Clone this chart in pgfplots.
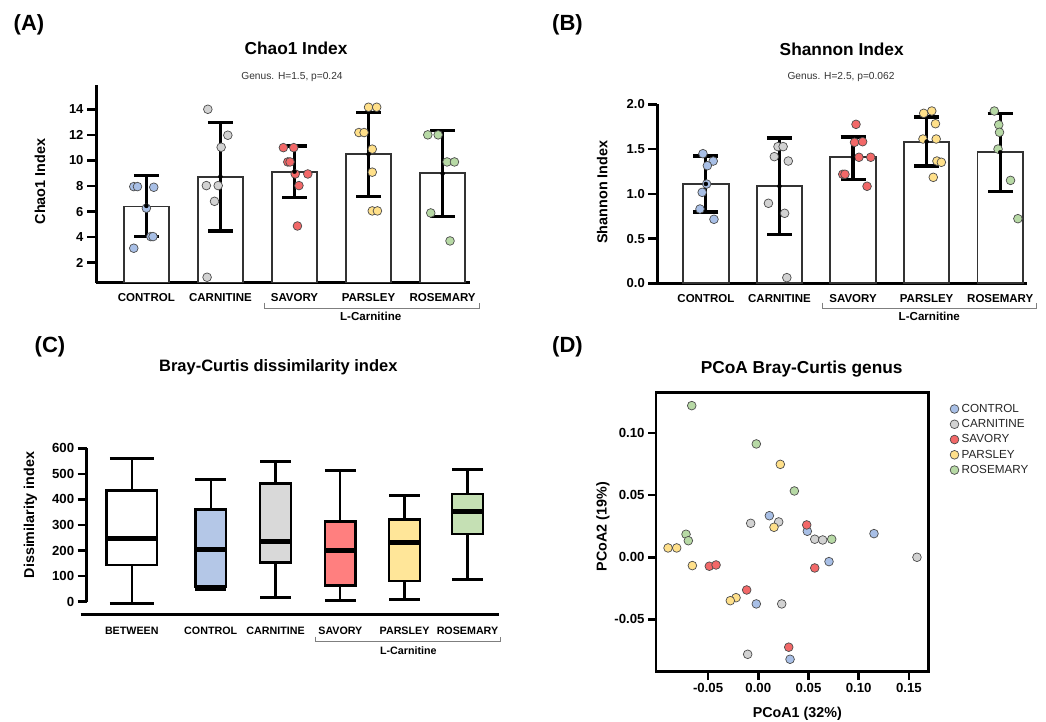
\documentclass[border=0pt]{standalone}
\usepackage{fontspec}
\setmainfont{Liberation Sans}
\usepackage{pgfplots}
\pgfplotsset{compat=1.18}
\definecolor{cblue}{HTML}{B4C7E7}
\definecolor{cgray}{HTML}{D9D9D9}
\definecolor{cred}{HTML}{FF7F7F}
\definecolor{cyellow}{HTML}{FFE699}
\definecolor{cgreen}{HTML}{C5E0B4}
\definecolor{mblue}{HTML}{A8BFE6}
\definecolor{mgray}{HTML}{D2D2D2}
\definecolor{mred}{HTML}{F26868}
\definecolor{myellow}{HTML}{FFE08A}
\definecolor{mgreen}{HTML}{B7D9A5}
\definecolor{bracketgray}{HTML}{7F7F7F}
\newcommand{\fs}[1]{\fontsize{#1}{#1}\selectfont}
\pgfplotsset{
  pts/.style={only marks, mark=*, mark size=4.35pt,
    mark options={fill=#1, draw=black!70, line width=0.7pt, solid}},
  ebar/.style={black, only marks, mark=none,
    error bars/.cd, y dir=both, y explicit, error mark=-,
    error bar style={line width=3.2pt, black, solid},
    error mark options={rotate=90, line width=3.2pt, black, mark size=12.5pt}},
  barax/.style={scale only axis, anchor=south west,
    axis x line*=bottom, axis y line*=left,
    axis line style={line width=3pt, -},
    xtick={0,1,2,3,4},
    xticklabels={CONTROL,CARNITINE,SAVORY,PARSLEY,ROSEMARY},
    xtick style={draw=none},
    ytick style={line width=2.5pt, black},
    ytick align=outside, xtick align=inside, major tick length=9pt,
    /pgf/number format/assume math mode=true,
    yticklabel style={font=\bfseries\fs{13}},
    xticklabel style={font=\bfseries\fs{11.5}, anchor=base, yshift=-19pt},
  },
  barst/.style={ybar, bar width=45.5pt, fill=white, draw=black!80, line width=1.8pt},
  boxst/.style={fill=#1, draw=black, line width=2.6pt, line join=miter, mark=none},
}
\begin{document}
\begin{tikzpicture}
\path[use as bounding box] (0pt,0pt) rectangle (1046pt,722pt);

% ---------------- Panel A ----------------
\begin{axis}[barax, at={(96pt,439pt)}, width=374pt, height=198pt,
  xmin=-0.68, xmax=4.37, ymin=0.41, ymax=15.9,
  ytick={2,4,...,14}]
\addplot[barst] coordinates {(0,6.39) (1,8.69) (2,9.10) (3,10.53) (4,9.02)};
\addplot[pts=mblue] coordinates {(-0.17,7.95) (-0.12,7.95) (0.10,7.9) (0.0,6.26) (0.06,4.04) (0.09,4.04) (-0.17,3.13)};
\addplot[pts=mgray] coordinates {(0.83,14.0) (1.10,11.97) (1.01,11.03) (0.81,8.03) (0.97,8.03) (0.92,6.8) (0.82,0.86)};
\addplot[pts=mred] coordinates {(1.85,11.0) (1.99,11.0) (1.91,9.88) (1.94,9.88) (2.01,8.94) (2.18,8.94) (2.06,8.03) (2.04,4.87)};
\addplot[pts=myellow] coordinates {(3.0,14.16) (3.11,14.16) (2.87,12.18) (2.94,12.18) (3.05,10.88) (3.05,9.08) (3.05,6.05) (3.12,6.05)};
\addplot[pts=mgreen] coordinates {(3.8,12.0) (3.94,12.0) (4.06,9.88) (4.16,9.88) (3.84,5.89) (4.10,3.7)};
\addplot[ebar] coordinates {(0,6.44) +- (0,2.40) (1,8.735) +- (0,4.255) (2,9.125) +- (0,2.005) (3,10.485) +- (0,3.285) (4,8.97) +- (0,3.34)};
\end{axis}

% ---------------- Panel B ----------------
\begin{axis}[barax, at={(657.3pt,438.7pt)}, width=370pt, height=179pt,
  xmin=-0.66, xmax=4.368, ymin=0, ymax=2, clip=false,
  ytick={0,0.5,...,2},
  yticklabel style={/pgf/number format/fixed, /pgf/number format/fixed zerofill, /pgf/number format/precision=1}]
\addplot[barst] coordinates {(0,1.109) (1,1.087) (2,1.408) (3,1.575) (4,1.464)};
\addplot[pts=mblue] coordinates {(-0.04,1.448) (0.10,1.366) (0.02,1.314) (0.01,1.109) (-0.05,1.016) (-0.08,0.83) (0.11,0.715)};
\addplot[pts=mgray] coordinates {(0.98,1.527) (1.05,1.527) (0.93,1.415) (1.12,1.366) (0.85,0.894) (1.07,0.782) (1.10,0.063)};
\addplot[pts=mred] coordinates {(2.04,1.776) (2.02,1.575) (2.13,1.582) (2.08,1.408) (2.24,1.408) (1.86,1.218) (1.89,1.218) (2.19,1.084)};
\addplot[pts=myellow] coordinates {(2.96,1.899) (3.07,1.925) (3.12,1.783) (2.95,1.612) (3.13,1.612) (3.14,1.366) (3.20,1.352) (3.09,1.184)};
\addplot[pts=mgreen] coordinates {(3.92,1.925) (3.98,1.772) (3.99,1.687) (3.97,1.5) (4.14,1.15) (4.24,0.722)};
\addplot[ebar] coordinates {(0,1.11) +- (0,0.3125) (1,1.085) +- (0,0.538) (2,1.3985) +- (0,0.2365) (3,1.584) +- (0,0.274) (4,1.4635) +- (0,0.4355)};
\end{axis}

% ---------------- Panel C ----------------
\begin{axis}[at={(86.7pt,107.7pt)}, anchor=south west, scale only axis,
  width=412.3pt, height=166pt,
  xmin=-0.931, xmax=5.491, ymin=-49.3, ymax=600, clip=false,
  axis x line*=bottom, axis y line*=left,
  axis line style={line width=0.1pt, white, -},
  unbounded coords=jump,
  ytick={0,100,...,600},
  xtick={-0.229,1,2.01,3.02,4.02,5},
  xticklabels={BETWEEN,CONTROL,CARNITINE,SAVORY,PARSLEY,ROSEMARY},
  xtick style={draw=none}, ytick style={line width=2.5pt, black},
  ytick align=outside, xtick align=inside, major tick length=9pt,
  /pgf/number format/assume math mode=true,
  yticklabel style={font=\bfseries\fs{13.2}},
  xticklabel style={font=\bfseries\fs{10.7}, anchor=base, yshift=-20pt},
]
% whiskers (vertical)
\addplot[black, line width=2.2pt, mark=none] coordinates {(-0.229,-6) (-0.229,562) (nan,nan) (1,46) (1,476) (nan,nan) (2.01,18) (2.01,550) (nan,nan) (3.02,3) (3.02,514) (nan,nan) (4.02,7) (4.02,417) (nan,nan) (5,85) (5,518)};
% whisker caps
\addplot[black, line width=3pt, mark=none] coordinates {(-0.5715,-6) (0.1135,-6) (nan,nan) (-0.5715,562) (0.1135,562) (nan,nan) (0.76,46) (1.24,46) (nan,nan) (0.76,476) (1.24,476) (nan,nan) (1.77,18) (2.25,18) (nan,nan) (1.77,550) (2.25,550) (nan,nan) (2.78,3) (3.26,3) (nan,nan) (2.78,514) (3.26,514) (nan,nan) (3.78,7) (4.26,7) (nan,nan) (3.78,417) (4.26,417) (nan,nan) (4.76,85) (5.24,85) (nan,nan) (4.76,518) (5.24,518)};
% boxes (lower quartile to upper quartile)
\addplot[boxst=white] coordinates {(-0.619,143.5) (0.161,143.5) (0.161,434) (-0.619,434)} -- cycle;
\addplot[boxst=cblue] coordinates {(0.76,59) (1.24,59) (1.24,361) (0.76,361)} -- cycle;
\addplot[boxst=cgray] coordinates {(1.77,154) (2.25,154) (2.25,463) (1.77,463)} -- cycle;
\addplot[boxst=cred] coordinates {(2.78,63) (3.26,63) (3.26,313) (2.78,313)} -- cycle;
\addplot[boxst=cyellow] coordinates {(3.78,81) (4.26,81) (4.26,322) (3.78,322)} -- cycle;
\addplot[boxst=cgreen] coordinates {(4.76,265) (5.24,265) (5.24,421) (4.76,421)} -- cycle;
% medians
\addplot[black, line width=5pt, mark=none] coordinates {(-0.619,248) (0.161,248) (nan,nan) (0.76,206) (1.24,206) (nan,nan) (1.77,236) (2.25,236) (nan,nan) (2.78,202) (3.26,202) (nan,nan) (3.78,230) (4.26,230) (nan,nan) (4.76,354) (5.24,354)};
\draw[line width=2.5pt] (axis cs:-0.931,-1) -- (axis cs:-0.931,601);
\draw[line width=3pt] (axis cs:-1.0245,-49.3) -- (axis cs:5.491,-49.3);
\end{axis}

% ---------------- Panel D ----------------
\begin{axis}[at={(656pt,50.3pt)}, anchor=south west, scale only axis,
  width=272.3pt, height=279pt,
  xmin=-0.1019, xmax=0.1693, ymin=-0.092, ymax=0.1323,
  axis line style={line width=2.5pt},
  tick pos=left, tick align=outside, major tick length=8pt,
  tick style={line width=2.5pt, black},
  xtick={-0.05,0,0.05,0.1,0.15}, ytick={-0.05,0,0.05,0.1},
  scaled ticks=false,
  /pgf/number format/fixed, /pgf/number format/fixed zerofill,
  /pgf/number format/precision=2, /pgf/number format/assume math mode=true,
  ticklabel style={font=\bfseries\fs{13.2}},
  legend style={at={(1.0795,0.965)}, anchor=north west, draw=none, fill=none,
    font=\fs{11.7}, row sep=2.6pt, inner sep=0pt, nodes={inner sep=1.5pt, text=black!85},
    /tikz/every odd column/.append style={column sep=1.3pt}},
  legend cell align=left,
  legend image code/.code={\draw[#1] plot coordinates {(0pt,0pt)};},
]
\addplot[pts=mblue] coordinates {(0.011,0.0334) (0.0488,0.0209) (0.1152,0.019) (0.0704,-0.0035) (-0.002,-0.0375) (0.0316,-0.082)};
\addlegendentry{CONTROL}
\addplot[pts=mgray] coordinates {(-0.0076,0.0273) (0.0203,0.0284) (0.0562,0.0145) (0.0641,0.0139) (0.158,0.0) (0.0233,-0.0375) (-0.0106,-0.078)};
\addlegendentry{CARNITINE}
\addplot[pts=mred] coordinates {(0.0482,0.026) (0.0562,-0.0086) (-0.0488,-0.0072) (-0.0421,-0.0062) (-0.0116,-0.0263) (0.0303,-0.0723)};
\addlegendentry{SAVORY}
\addplot[pts=myellow] coordinates {(0.0219,0.0747) (0.0156,0.0241) (-0.0899,0.0075) (-0.0813,0.0075) (-0.0657,-0.0067) (-0.0222,-0.0325) (-0.0279,-0.0349)};
\addlegendentry{PARSLEY}
\addplot[pts=mgreen] coordinates {(-0.0663,0.1219) (-0.002,0.0911) (0.0359,0.0533) (0.0731,0.0145) (-0.072,0.0185) (-0.0697,0.0133)};
\addlegendentry{ROSEMARY}
\end{axis}

% ---------------- Texts ----------------
\node[anchor=base, font=\bfseries\fs{22}] at (29pt,691.3pt) {(A)};
\node[anchor=base, font=\bfseries\fs{22}] at (567.5pt,691.3pt) {(B)};
\node[anchor=base, font=\bfseries\fs{22}] at (50pt,369.3pt) {(C)};
\node[anchor=base, font=\bfseries\fs{22}] at (567.5pt,369.3pt) {(D)};

\node[anchor=base, font=\bfseries\fs{17.3}] at (296pt,667pt) {Chao1 Index};
\node[anchor=base, font=\bfseries\fs{17.3}] at (841.7pt,666pt) {Shannon Index};
\node[anchor=base, font=\bfseries\fs{16.5}] at (278.3pt,350.3pt) {Bray-Curtis dissimilarity index};
\node[anchor=base, font=\bfseries\fs{17.3}] at (801.7pt,348.7pt) {PCoA Bray-Curtis genus};

\node[anchor=base, font=\fs{10.2}, text=black!80] at (292pt,642.7pt) {Genus. H=1.5, p=0.24};
\node[anchor=base, font=\fs{10.2}, text=black!80] at (841pt,642pt) {Genus. H=2.5, p=0.062};

\node[anchor=base, rotate=90, font=\bfseries\fs{14.4}] at (45pt,540.5pt) {Chao1 Index};
\node[anchor=base, rotate=90, font=\bfseries\fs{14.4}] at (607.3pt,529.8pt) {Shannon Index};
\node[anchor=base, rotate=90, font=\bfseries\fs{14.3}] at (34pt,207pt) {Dissimilarity index};
\node[anchor=base, rotate=90, font=\bfseries\fs{14.3}] at (606.7pt,195.3pt) {PCoA2 (19\%)};
\node[anchor=base, font=\bfseries\fs{14.3}] at (797.3pt,4.3pt) {PCoA1 (32\%)};

\draw[bracketgray, line width=1pt] (264pt,419.3pt) -- (264pt,413.7pt) -- (479pt,413.7pt) -- (479pt,419.3pt);
\node[anchor=base, font=\bfseries\fs{11.6}] at (370.7pt,401pt) {L-Carnitine};
\draw[bracketgray, line width=1pt] (822.7pt,419.3pt) -- (822.7pt,413.7pt) -- (1036pt,413.7pt) -- (1036pt,419.3pt);
\node[anchor=base, font=\bfseries\fs{11.6}] at (929.3pt,401pt) {L-Carnitine};
\draw[bracketgray, line width=1pt] (315pt,85.3pt) -- (315pt,80.3pt) -- (500.7pt,80.3pt) -- (500.7pt,85.3pt);
\node[anchor=base, font=\bfseries\fs{10.7}] at (408.3pt,67pt) {L-Carnitine};
\end{tikzpicture}
\end{document}
